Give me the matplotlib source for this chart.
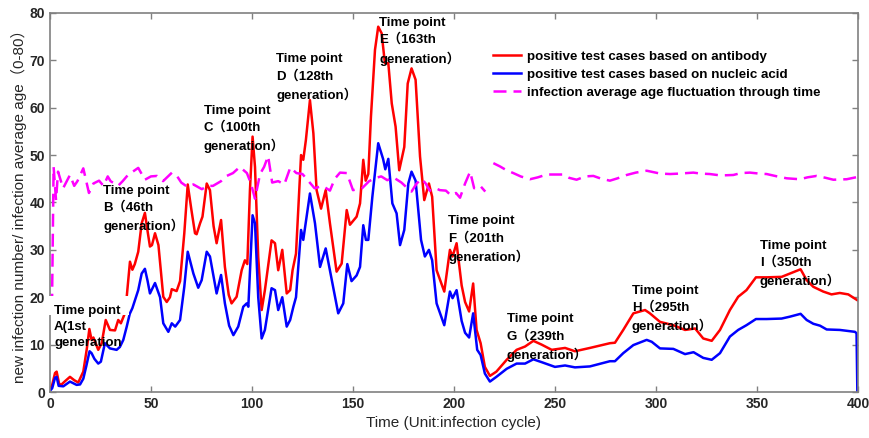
import numpy as np
import matplotlib
matplotlib.use("Agg")
import matplotlib.pyplot as plt
from matplotlib.patches import Rectangle

plt.rcParams['font.family'] = ['Liberation Sans', 'Noto Sans CJK SC', 'DejaVu Sans']

# positive test cases based on antibody (red)
antibody_x = [0.5, 1.1, 2.5, 3.3, 4.5, 5.5, 7.5, 9.9, 12, 14, 16.5, 18.2, 19.5, 20.6, 21.5,
              23.9, 25.6, 27.6, 29.7, 32.2, 33.8, 35.1, 36.8, 38.0, 39.6, 40.8, 42.0, 43.7,
              45.4, 47.0, 48.3, 49.5, 50.5, 52.0, 53.7, 55.0, 56.1, 57.8, 59.4, 60.3, 62.7,
              64.4, 66.5, 68.2, 70.0, 71.8, 72.6, 74.3, 75.5, 77.6, 79.2, 81.0, 82.5, 84.7,
              86.6, 88.5, 89.9, 92.4, 94.9, 96.5, 97.7, 99.0, 100.3, 101.5, 103.1, 104.8,
              106.4, 109.7, 111.4, 113.0, 115.0, 117.2, 118.9, 120.1, 121.8, 124.3, 125.4,
              126.7, 128.7, 130.4, 132.0, 134.2, 136.5, 138.6, 141.9, 144.4, 146.9, 148.5,
              151.8, 153.5, 155.1, 156.3, 157.6, 158.9, 160.9, 162.5, 164.2, 165.8, 167.5,
              169.2, 171.1, 172.9, 175.4, 177.1, 179.0, 181.0, 183.2, 185.3, 187.6, 189.2,
              191.4, 195.2, 198.0, 199.3, 201.3, 203.8, 205.5, 207.5, 209.5, 211.2, 213.2,
              215.3, 217.8, 221.0, 226.1, 231.0, 235.2, 239.3, 243.4, 248.4, 255.0, 259.9,
              267.3, 277.2, 279.7, 283.8, 288.8, 294.6, 297.0, 302.0, 308.6, 314.4, 319.4,
              323.4, 327.6, 331.7, 336.6, 340.7, 344.8, 349.5, 354.8, 362.2, 366.3, 371.6,
              374.6, 377.9, 382.8, 386.9, 391.0, 395.2, 399.6]
antibody_y = [1.0, 1.5, 4.0, 4.3, 1.8, 1.5, 2.3, 3.2, 2.5, 2.0, 4.3, 9.0, 13.3, 11.0, 11.5,
              8.9, 10.3, 15.2, 13.1, 13.0, 15.2, 14.5, 16.3, 20.1, 27.5, 25.8, 27.0, 29.6,
              35.6, 37.8, 34.0, 30.7, 31.0, 33.5, 31.0, 25.0, 20.1, 19.0, 20.0, 21.7, 21.3,
              23.4, 33.5, 43.8, 38.5, 33.5, 33.3, 35.6, 37.0, 44.0, 42.6, 35.0, 31.4, 36.3,
              26.4, 20.5, 18.7, 20.1, 25.7, 27.8, 27.0, 42.6, 53.9, 47.5, 28.5, 17.3,
              21.5, 32.0, 31.4, 25.7, 30.0, 20.8, 21.5, 25.7, 29.2, 50.0, 49.0,
              53.2, 61.6, 54.6, 42.6, 38.7, 42.6, 35.6, 25.4, 27.1, 38.4, 35.3,
              37.0, 39.8, 49.0, 44.6, 46.0, 58.1, 72.2, 77.1, 75.7, 69.4, 69.4,
              60.9, 56.0, 46.8, 51.7, 65.1, 68.3, 65.9, 49.7, 40.5, 44.0, 41.2,
              25.7, 21.2, 30.0, 28.6, 31.4, 22.5, 19.0, 17.0, 22.9, 13.1, 10.3,
              5.3, 3.4, 4.3, 6.8, 8.9, 9.6, 10.8, 10.0, 8.9, 9.3, 8.6,
              9.3, 10.3, 10.4, 13.1, 16.6, 17.3, 16.6, 14.8, 14.1, 13.1, 13.4,
              11.3, 10.8, 13.1, 17.3, 20.1, 21.5, 24.2, 24.2, 24.3, 25.0, 25.9,
              23.6, 22.2, 21.2, 20.6, 20.9, 20.6, 19.4]

# positive test cases based on nucleic acid (blue)
nucleic_x = [0.5, 1.1, 2.5, 3.3, 4.3, 6.6, 9.9, 13.2, 14.9, 16.5, 18.0, 19.6, 20.6, 22.0,
             23.9, 25.2, 27.2, 29.7, 33.0, 34.6, 36.3, 38.0, 39.5, 40.8, 42.1, 43.7, 45.4,
             47.0, 48.3, 49.5, 52.0, 54.5, 56.1, 58.6, 60.3, 62.0, 64.4, 66.5, 68.2, 71.0,
             73.4, 75.1, 77.6, 79.2, 82.5, 84.7, 86.6, 88.7, 90.8, 93.2, 95.7, 97.4, 98.2,
             100.3, 101.5, 103.1, 104.8, 106.4, 109.7, 111.4, 113.0, 115.0, 117.2, 118.9,
             120.5, 121.8, 124.3, 125.4, 128.7, 131.2, 133.7, 136.5, 138.6, 142.7, 145.2,
             147.2, 149.3, 151.8, 153.5, 155.1, 156.4, 157.6, 159.6, 162.5, 164.9, 166.0,
             167.5, 169.5, 171.6, 173.3, 175.4, 177.4, 179.0, 181.0, 183.7, 185.6, 187.6,
             189.2, 191.4, 195.2, 198.0, 199.3, 201.3, 203.8, 205.5, 207.5, 209.5, 211.5,
             213.2, 215.3, 217.8, 221.0, 226.1, 231.0, 235.2, 239.3, 243.4, 250.0, 255.0,
             259.9, 267.3, 277.2, 279.7, 283.8, 288.8, 295.4, 297.9, 302.0, 308.6, 314.4,
             318.6, 323.4, 327.6, 331.7, 336.6, 340.7, 344.8, 349.5, 354.8, 362.2, 366.3,
             371.6, 374.6, 377.9, 381.2, 384.5, 391.0, 398.5, 399.3, 399.7]
nucleic_y = [0.5, 0.8, 3.0, 3.2, 1.3, 1.2, 2.2, 1.5, 1.6, 2.8, 5.5, 8.6, 8.2, 7.0,
             6.0, 6.4, 10.3, 9.2, 8.9, 9.5, 11.0, 13.8, 16.5, 17.7, 19.4, 21.5, 25.0,
             26.0, 23.5, 20.8, 23.0, 20.0, 14.5, 12.7, 14.5, 13.8, 15.2, 22.2, 29.6, 25.0,
             22.0, 23.6, 29.6, 28.6, 20.8, 24.7, 18.7, 14.0, 12.0, 13.8, 18.0, 18.7, 18.0,
             37.3, 35.6, 20.0, 11.3, 13.1, 21.9, 21.5, 17.3, 20.0, 13.8, 15.2,
             18.0, 20.0, 34.2, 32.1, 41.9, 35.6, 26.4, 30.3, 25.7, 16.6, 18.7,
             27.0, 23.4, 24.6, 26.4, 35.2, 32.1, 32.1, 41.2, 52.5, 49.2, 47.0,
             49.2, 39.8, 37.7, 31.0, 34.2, 44.0, 46.5, 44.6, 32.1, 28.6, 30.0,
             27.8, 18.7, 14.1, 21.2, 19.8, 21.5, 15.0, 12.5, 11.5, 16.6, 8.9,
             7.8, 3.9, 2.2, 3.2, 4.9, 6.0, 6.0, 6.9, 6.3, 5.3, 5.6,
             5.2, 5.4, 6.5, 6.5, 8.2, 9.9, 11.0, 10.6, 9.2, 9.1, 8.0,
             8.4, 7.2, 6.8, 8.2, 11.7, 13.1, 14.1, 15.4, 15.4, 15.5, 15.9,
             16.5, 15.2, 14.4, 14.0, 13.2, 13.1, 12.7, 12.4, 0.0]

# infection average age fluctuation through time (magenta); nan marks the break
age_x = [1, 1.8, 3.0, 4.0, 6.5, 9.9, 12, 13.6, 16.5, 19.3, 21.5, 24.3, 26.5, 28.6, 30,
         33.7, 36, 38.6, 41, 43.7, 47, 50, 53, 56, 60.4, 63, 65, 68, 71, 75.2, 78, 80.7,
         84.7, 87, 90.6, 94, 97.5, 99.5, 101.5, 104, 106, 108, 110, 113, 116, 119, 122,
         125, 128, 131, 135, 138.6, 141, 143.6, 147, 150, 154.5, 158, 161.4, 164, 167,
         170, 174, 177, 179, 181.5, 184, 186, 188, 191, 193, 196, 198.5, 201, 203,
         205.5, 208, 210, 213, 215.5, 217.5,
         219.5, 222.8, 226, 229.4, 233, 237.6, 241.5, 245.9, 250, 254, 257, 260.7, 265,
         269, 273, 277.2, 281, 285.5, 290, 295.4, 302, 307, 311.9, 318.5, 322, 326.7,
         332, 338.3, 342, 346.5, 351, 354.8, 360, 364.7, 371.3, 375, 379.5, 384, 387.8,
         394.4, 400]
age_y = [18, 47.5, 40.5, 46.5, 43, 45.8, 43.5, 44.5, 47.2, 42.0, 44, 44.6, 43.5, 45.5, 44.5,
         43.5, 44.5, 45.8, 46.5, 47.3, 44.8, 45.5, 45.6, 44.5, 46.3, 45.5, 44.2, 43.3, 43.8,
         42.8, 43.5, 43.5, 44.5, 45.5, 46.2, 47.5, 46.2, 44, 40.8, 46, 47.5, 49.8, 44.2,
         44.5, 43.8, 47.4, 46.2, 46, 44.5, 43, 43.5, 42.5, 45, 46.3, 46.2, 42.6, 43, 44.5,
         45.2, 45.5, 44.7, 45.3, 44.2, 43, 42.3, 44, 45, 44, 42.5, 43, 42.6, 42.5, 41.5,
         42, 41, 44, 46.5, 43, 43.5, 42.3, np.nan,
         48.3, 47.6, 46.8, 46.2, 45.5, 44.9, 45.3, 45.9, 45.9, 45.9, 45.2, 44.8, 45.5,
         45.6, 45, 44.6, 45.1, 45.8, 46.3, 46.7, 46.1, 46, 46.1, 46.3, 46.1, 46,
         45.7, 45.8, 46.2, 46.3, 46.1, 46, 45.5, 45.1, 44.9, 45.3, 45.6, 45.2, 44.8,
         44.9, 45.4]

labels = ["positive test cases based on antibody",
          "positive test cases based on nucleic acid",
          "infection average age fluctuation through time"]

notes = ["Time point\nA(1st\ngeneration",
         "Time point\nB（46th\ngeneration）",
         "Time point\nC（100th\ngeneration）",
         "Time point\nD（128th\ngeneration）",
         "Time point\nE（163th\ngeneration）",
         "Time point\nF（201th\ngeneration）",
         "Time point\nG（239th\ngeneration）",
         "Time point\nH（295th\ngeneration）",
         "Time point\nI（350th\ngeneration）"]
note_x = [2, 26.4, 76.2, 111.9, 163, 197.2, 226.1, 288, 351.5]
note_y = [18.4, 43.7, 60.6, 71.5, 79.1, 37.3, 16.6, 22.6, 32.1]

fig = plt.figure(figsize=(8.69, 4.38), dpi=100)
ax = fig.add_axes([0.0575, 0.105, 0.9298, 0.8655])

ax.plot(antibody_x, antibody_y, color='#ff0000', lw=1.8, label=labels[0])
ax.plot(nucleic_x, nucleic_y, color='#0000ff', lw=1.8, label=labels[1])
ax.plot(age_x, age_y, color='#ff00ff', lw=1.8, dashes=(5.2, 2.8), label=labels[2])

# white patch that hides part of the curves and the spine near label A
ax.add_patch(Rectangle((-1, 16.2), 40, 4.0, facecolor='white', edgecolor='none',
                       clip_on=False, zorder=4))

for txt, x, y in zip(notes, note_x, note_y):
    ax.text(x, y, txt, fontsize=9.5, fontweight='bold', va='top', ha='left',
            linespacing=1.45, zorder=5)

ax.set_xlim(0, 400)
ax.set_ylim(0, 80)
ax.set_xticks(range(0, 401, 50))
ax.set_yticks(range(0, 81, 10))
ax.tick_params(direction='in', top=True, right=True, length=4, width=1,
               color='#808080', labelcolor='#262626', labelsize=10)
for lab in ax.get_xticklabels() + ax.get_yticklabels():
    lab.set_fontweight('bold')
for sp in ax.spines.values():
    sp.set_color('#808080')
    sp.set_linewidth(1.2)

ax.set_xlabel("Time (Unit:infection cycle)", fontsize=11, color='#262626', labelpad=4)
ax.set_ylabel("new infection number/ infection average age（0-80）", fontsize=11,
              color='#262626', labelpad=2)

ax.legend(loc='upper left', bbox_to_anchor=(0.548, 0.90), frameon=False,
          prop={'weight': 'bold', 'size': 9.6}, handlelength=2.1, handletextpad=0.5,
          labelspacing=0.42, borderpad=0, borderaxespad=0)

fig.savefig("out.png", dpi=100)
